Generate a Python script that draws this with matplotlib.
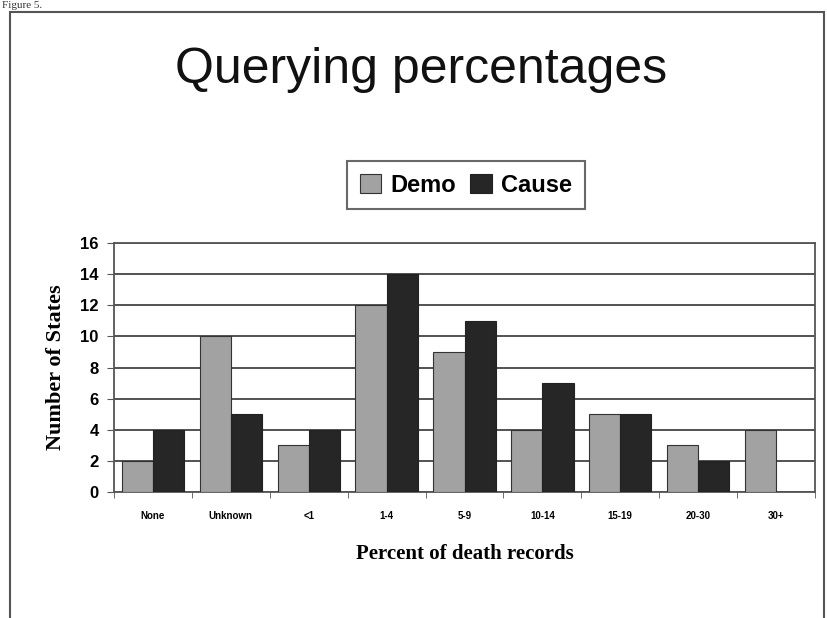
import numpy as np
import matplotlib.pyplot as plt
from matplotlib.patches import Rectangle

categories = ['None', 'Unknown', '<1', '1-4', '5-9', '10-14', '15-19', '20-30', '30+']
demo = [2, 10, 3, 12, 9, 4, 5, 3, 4]
cause = [4, 5, 4, 14, 11, 7, 5, 2, 0]
yticks = [0, 2, 4, 6, 8, 10, 12, 14, 16]

fig = plt.figure(figsize=(8.27, 6.18), dpi=100)
fig.patch.set_facecolor('white')

# slide frame
fig.patches.append(Rectangle((10/827, -0.05), (824-10)/827, 1.05 - 12/618,
                             transform=fig.transFigure, fill=False,
                             edgecolor='#555555', linewidth=1.5))
fig.text(0.003, 0.999, 'Figure 5.', family='Liberation Serif', fontsize=8,
         va='top', ha='left', color='#333333')

fig.text(0.509, 0.887, 'Querying percentages', family='Liberation Sans',
         fontsize=36, ha='center', va='center', color='#111111')

ax = fig.add_axes([114/827, 1-492/618, (815-114)/827, (492-243)/618])
x = np.arange(len(categories))
w = 0.4
b1 = ax.bar(x - w/2, demo, w, color='#a2a2a2', edgecolor='#333333', linewidth=0.8, label='Demo', zorder=3)
b2 = ax.bar(x + w/2, cause, w, color='#262626', edgecolor='#222222', linewidth=0.8, label='Cause', zorder=3)

ax.set_xlim(-0.5, len(categories) - 0.5)
ax.set_ylim(0, 16)
ax.set_yticks(yticks)
ax.yaxis.grid(True, color='#444444', linewidth=1.3, zorder=0)
ax.set_axisbelow(True)
for s in ax.spines.values():
    s.set_color('#555555')
    s.set_linewidth(1.3)

ax.set_xticks(x)
ax.set_xticklabels(categories, fontsize=7, fontweight='bold', family='Liberation Sans')
ax.tick_params(axis='x', which='major', length=0, pad=14)
ax.set_xticks(np.arange(-0.5, len(categories)), minor=True)
ax.tick_params(axis='x', which='minor', length=4, direction='out', color='#555555')
ax.tick_params(axis='y', length=5, color='#555555', labelsize=12, pad=6)
for t in ax.get_yticklabels():
    t.set_fontweight('bold')
    t.set_family('Liberation Sans')

ax.set_ylabel('Number of States', family='Liberation Serif', fontweight='bold',
              fontsize=16, labelpad=10)
ax.set_xlabel('Percent of death records', family='Liberation Serif', fontweight='bold',
              fontsize=15, labelpad=16)

leg = fig.legend(handles=[b1, b2], loc='center', bbox_to_anchor=(466/827, 1-185/618),
                 ncol=2, frameon=True, fancybox=False, handlelength=0.9, handleheight=0.9,
                 handletextpad=0.4, columnspacing=0.6, borderpad=0.55,
                 prop={'family': 'Liberation Sans', 'weight': 'bold', 'size': 17})
leg.get_frame().set_edgecolor('#444444')
leg.get_frame().set_linewidth(1.5)

fig.savefig('out.png', dpi=100)
